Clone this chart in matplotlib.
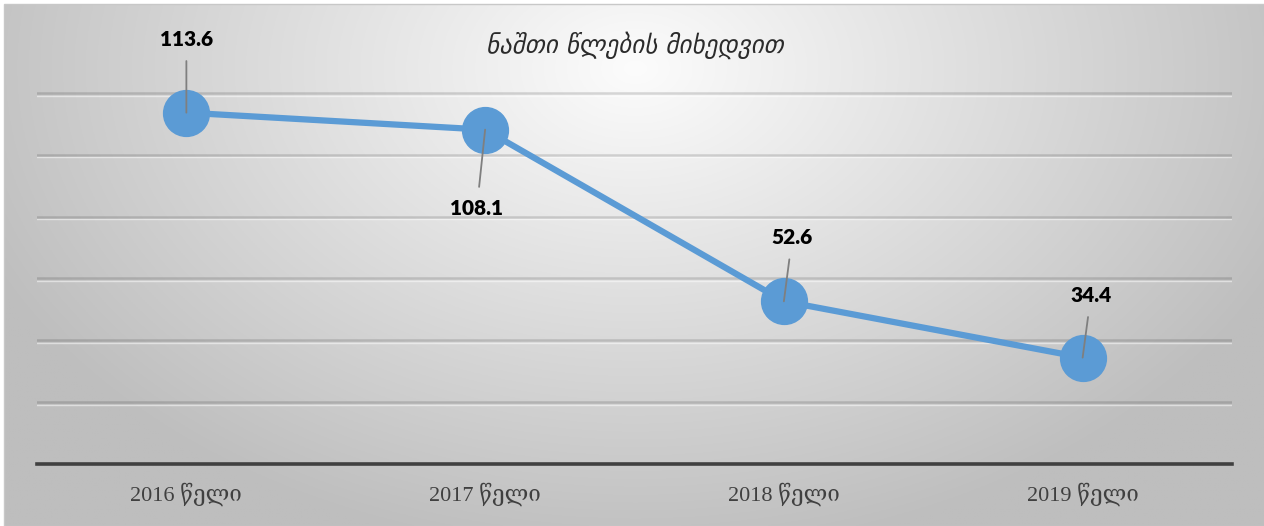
import numpy as np
import matplotlib.pyplot as plt

years = ["2016 წელი", "2017 წელი", "2018 წელი", "2019 წელი"]
values = [113.6, 108.1, 52.6, 34.4]
title = "ნაშთი წლების მიხედვით"

# label placement (offset in points from the marker)
offsets = [(0, 53), (-6, -57), (6, 46), (6, 45)]

fig = plt.figure(figsize=(12.64, 5.26), dpi=100)

# background gradient
bg = fig.add_axes([5/1264, 0, 1 - 5/1264, 1 - 5/526])
h, w = 300, 700
yy, xx = np.mgrid[0:h, 0:w]
r = np.sqrt(((xx - w*0.5) / (w*0.6))**2 + ((yy - h*0.12) / (h*1.0))**2)
g = np.clip(252 - 66*r, 190, 252) / 255
bg.imshow(np.dstack([g, g, g]), aspect="auto", extent=[0, 1, 0, 1], origin="upper")
bg.set_axis_off()
fig.patches.append(plt.Rectangle((4/1264, 0), 1, 1 - 4/526, transform=fig.transFigure,
                                 fill=False, edgecolor="#c8c8c8", lw=1))

ax = fig.add_axes([37/1264, 1 - 464/526, 1195/1264, 433/526])
ax.patch.set_alpha(0)
ax.set_xlim(-0.5, 3.5)
ax.set_ylim(0, 140)
x = np.arange(len(values))

for v in range(20, 140, 20):
    ax.axhline(v, color="#000000", alpha=0.14, lw=1.8, zorder=1)
    ax.axhline(v - 0.9, color="#ffffff", alpha=0.5, lw=1.0, zorder=1)

ax.plot(x, values, color="#5b9bd5", lw=4.5, marker="o", markersize=33, zorder=3)

for i, v in enumerate(values):
    dx, dy = offsets[i]
    ax.annotate(f"{v}", xy=(x[i], v), xytext=(dx, dy), textcoords="offset points",
                ha="center", va="center", fontsize=15, fontweight="heavy",
                family=["Lato", "DejaVu Sans"], color="#000000", zorder=5,
                arrowprops=dict(arrowstyle="-", color="#7f7f7f", lw=1.3,
                                shrinkA=7, shrinkB=0, zorder=5))

ax.set_xticks(x)
ax.set_xticklabels(years, family=["Liberation Serif", "DejaVu Serif", "DejaVu Sans"],
                   fontsize=16, color="#404040")
ax.tick_params(axis="x", length=0, pad=13)
ax.set_yticks([])
for s in ["top", "left", "right"]:
    ax.spines[s].set_visible(False)
ax.spines["bottom"].set_color("#404040")
ax.spines["bottom"].set_linewidth(2.6)

fig.text(635/1264, 1 - 45/526, title, ha="center", va="center", fontsize=18,
         style="italic", fontweight="medium", family=["DejaVu Sans"], color="#2b2b2b")

fig.savefig("out.png", dpi=100)
